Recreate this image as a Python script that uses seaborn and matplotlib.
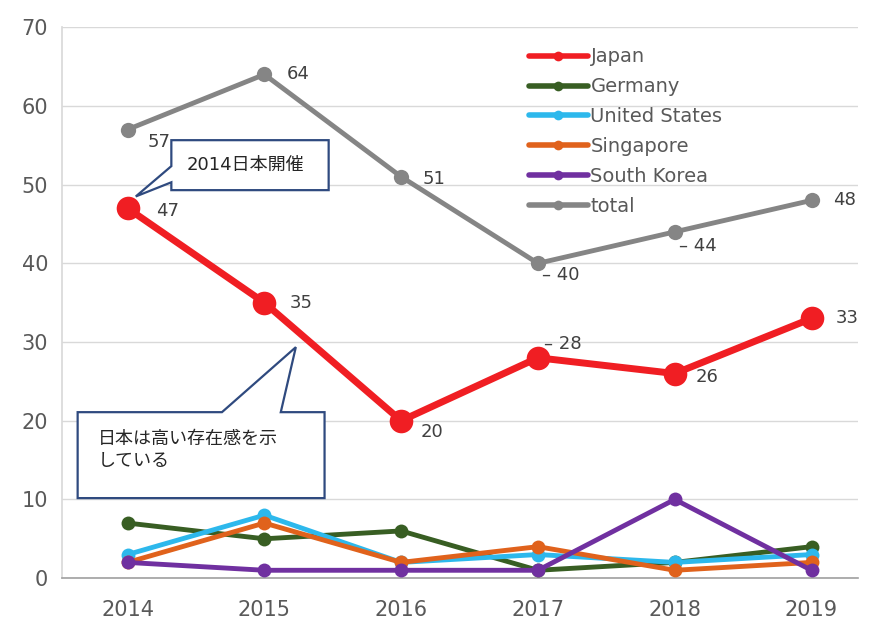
import matplotlib.pyplot as plt
from matplotlib.patches import Polygon
import pandas as pd
import seaborn as sns

# values
years = [2014, 2015, 2016, 2017, 2018, 2019]
japan = [47, 35, 20, 28, 26, 33]
germany = [7, 5, 6, 1, 2, 4]
united_states = [3, 8, 2, 3, 2, 3]
singapore = [2, 7, 2, 4, 1, 2]
south_korea = [2, 1, 1, 1, 10, 1]
total = [57, 64, 51, 40, 44, 48]

series_names = ["Japan", "Germany", "United States", "Singapore", "South Korea", "total"]
series_values = [japan, germany, united_states, singapore, south_korea, total]
colors = ["#F01E23", "#385E23", "#2DB8EC", "#E0621C", "#7030A0", "#858585"]

callout_1 = "2014日本開催"
callout_2 = "日本は高い存在感を示\nしている"

rows = []
for name, vals in zip(series_names, series_values):
    for y, v in zip(years, vals):
        rows.append({"year": y, "country": name, "count": v})
df = pd.DataFrame(rows)

sns.set_theme(style="whitegrid")
plt.rcParams["font.family"] = ["DejaVu Sans", "Noto Sans CJK JP"]

fig, ax = plt.subplots(figsize=(8.72, 6.19), dpi=100)
fig.subplots_adjust(left=0.071, right=0.984, top=0.956, bottom=0.066)

styles = {
    "Japan": dict(lw=5, ms=17, z=5),
    "total": dict(lw=3.5, ms=11, z=4),
}
draw_order = ["total", "Germany", "United States", "Singapore", "South Korea", "Japan"]
for name in draw_order:
    st = styles.get(name, dict(lw=3.5, ms=10, z=3))
    sns.lineplot(data=df[df["country"] == name], x="year", y="count",
                 color=colors[series_names.index(name)], linewidth=st["lw"],
                 marker="o", markersize=st["ms"], markeredgewidth=0,
                 label=name, ax=ax, zorder=st["z"])

# data labels (some with a short leader dash, like the original)
total_offsets = [(20, -12), (22, 0), (21, -2), (4, -12), (4, -14), (22, 0)]
total_leader = [False, False, False, True, True, False]
japan_offsets = [(28, -3), (25, 0), (19, -11), (6, 14), (21, -3), (24, 0)]
japan_leader = [False, False, False, True, False, False]
for vals, offs, leads in [(total, total_offsets, total_leader),
                          (japan, japan_offsets, japan_leader)]:
    for x, v, off, lead in zip(years, vals, offs, leads):
        txt = ("– " if lead else "") + str(v)
        ax.annotate(txt, (x, v), xytext=off, textcoords="offset pixels",
                    va="center", ha="left", fontsize=13, color="#404040", zorder=6)

# callout shapes (box with pointer)
navy = "#2F4A7F"
shape_1 = [(2014.32, 55.65), (2015.47, 55.65), (2015.47, 49.3), (2014.32, 49.3),
           (2014.32, 50.3), (2014.06, 48.5), (2014.32, 52.35)]
shape_2 = [(2013.635, 21.09), (2014.69, 21.09), (2015.23, 29.35), (2015.12, 21.09),
           (2015.44, 21.09), (2015.44, 10.17), (2013.635, 10.17)]
for shp in [shape_1, shape_2]:
    ax.add_patch(Polygon(shp, closed=True, fc="white", ec=navy, lw=1.6, zorder=7))
ax.text(2014.43, 52.5, callout_1, fontsize=13, color="#262626",
        va="center", ha="left", zorder=8)
ax.text(2013.78, 16.3, callout_2, fontsize=13, color="#262626",
        va="center", ha="left", zorder=8, linespacing=1.25)

ax.set_xlim(2013.52, 2019.34)
ax.set_ylim(0, 70)
ax.set_xticks(years)
ax.set_yticks(range(0, 71, 10))
ax.set_xlabel("")
ax.set_ylabel("")
ax.grid(axis="x", visible=False)
ax.grid(axis="y", color="#D9D9D9", lw=1)
ax.tick_params(axis="both", labelsize=15, colors="#595959", length=0)
ax.tick_params(axis="x", pad=16)
ax.tick_params(axis="y", pad=10)
for side in ["top", "right"]:
    ax.spines[side].set_visible(False)
ax.spines["left"].set_color("#D9D9D9")
ax.spines["bottom"].set_color("#A0A0A0")
ax.spines["bottom"].set_linewidth(1.2)

handles, labels = ax.get_legend_handles_labels()
order = [labels.index(n) for n in series_names]
leg = ax.legend([handles[i] for i in order], [labels[i] for i in order],
                loc="upper left", bbox_to_anchor=(0.565, 0.995), frameon=False,
                fontsize=14, handlelength=3.0, handletextpad=0.15,
                labelspacing=0.56, labelcolor="#595959")
for h in leg.legend_handles:
    h.set_markersize(7)
    h.set_linewidth(4)

fig.savefig("out.png", dpi=100)
